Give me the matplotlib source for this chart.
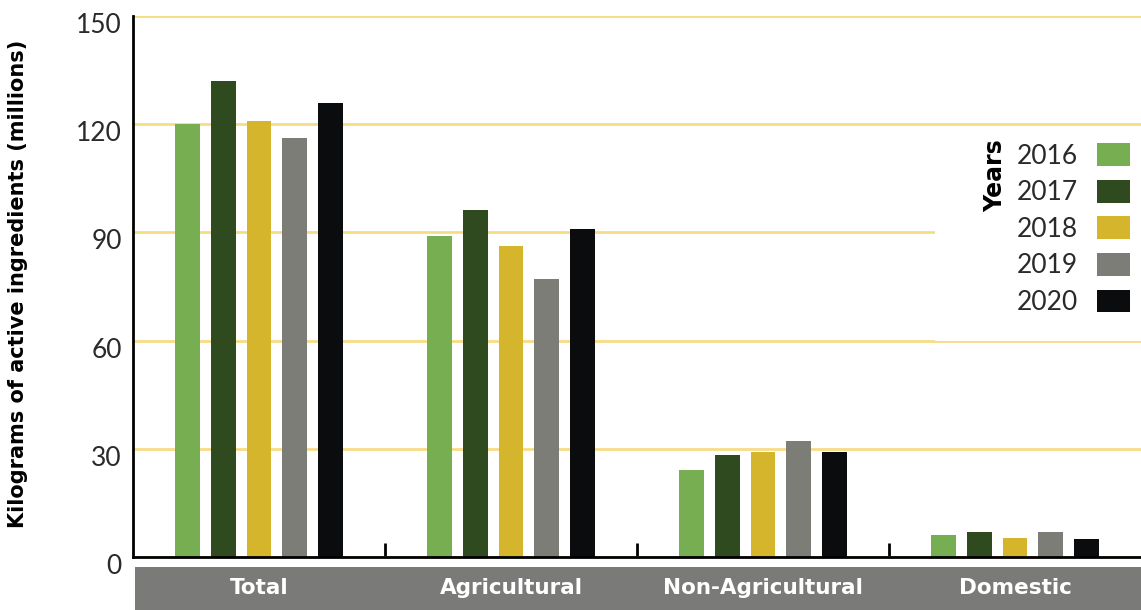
import matplotlib
matplotlib.use("Agg")
import matplotlib.pyplot as plt
import matplotlib.transforms as mtransforms
from matplotlib.patches import Rectangle, Patch
import numpy as np

categories = ["Total", "Agricultural", "Non-Agricultural", "Domestic"]
years = ["2016", "2017", "2018", "2019", "2020"]
values = {
    "2016": [120.0, 89.0, 24.1, 6.1],
    "2017": [132.0, 96.2, 28.2, 7.0],
    "2018": [121.0, 86.2, 29.0, 5.2],
    "2019": [116.2, 77.1, 32.2, 7.0],
    "2020": [125.9, 90.9, 29.2, 5.1],
}
colors = ["#77AE51", "#2F4A1F", "#D4B52B", "#7D7D78", "#0A0C0E"]
yticks = [0, 30, 60, 90, 120, 150]

fig = plt.figure(figsize=(11.41, 6.10), dpi=100)
ax = fig.add_axes([133/1141, 53/610, 1 - 133/1141, 541/610])

x = np.arange(len(categories))
w = 0.099
step = 0.141
for i, (yr, c) in enumerate(zip(years, colors)):
    ax.bar(x + (i - 2) * step, values[yr], width=w, color=c, zorder=2, label=yr)

ax.set_xlim(-0.5, 3.5)
ax.set_ylim(0, 150)
ax.set_yticks(yticks)
ax.set_yticklabels([str(v) for v in yticks], fontsize=19, color="#2A2A2A",
                   family=["Lato", "DejaVu Sans"], fontweight="normal")
ax.tick_params(axis="y", length=0, pad=8)
dy = mtransforms.ScaledTranslation(0, -7/100, fig.dpi_scale_trans)
for lab in ax.get_yticklabels():
    lab.set_transform(lab.get_transform() + dy)

ax.grid(axis="y", color="#F7DC86", linewidth=2, zorder=0.5)
ax.set_axisbelow(True)
for s in ["top", "right"]:
    ax.spines[s].set_visible(False)
ax.spines["left"].set_linewidth(2)
ax.spines["bottom"].set_linewidth(2)

ax.set_xticks([])
ax.set_xticks([0.5, 1.5, 2.5], minor=True)
ax.tick_params(axis="x", which="minor", direction="in", length=10, width=2, color="black")

# gray band with category labels
band = Rectangle((135/1141, 0), 1, 43/610, transform=fig.transFigure,
                 facecolor="#7A7B79", edgecolor="none", zorder=-1)
fig.patches.append(band)
trans = mtransforms.blended_transform_factory(ax.transData, fig.transFigure)
for xi, cat in zip(x, categories):
    ax.text(xi, 22/610, cat, transform=trans, ha="center", va="center",
            color="white", fontsize=15.5, fontweight="bold", clip_on=False,
            family=["DejaVu Sans"])

ax.set_ylabel("Kilograms of active ingredients (millions)", fontsize=15,
              fontweight="bold", labelpad=18)
ax.yaxis.set_label_coords(-0.104, 0.505)

# legend area
ax.add_patch(Rectangle((0.796, 0.40), 0.21, 0.375, transform=ax.transAxes,
                       facecolor="white", edgecolor="none", zorder=0.8))
handles = [Patch(facecolor=c, label=y) for y, c in zip(years, colors)]
leg = ax.legend(handles=handles, loc="upper right", bbox_to_anchor=(1.0, 0.784),
                markerfirst=False, frameon=False,
                prop={"family": ["Lato", "DejaVu Sans"], "weight": "normal", "size": 19},
                handlelength=1.25, handleheight=0.95, labelspacing=0.42,
                handletextpad=0.75, borderaxespad=0.0)
for t in leg.get_texts():
    t.set_color("#2A2A2A")
ax.text(0.855, 0.705, "Years", transform=ax.transAxes, rotation=90,
        ha="center", va="center", fontsize=17, fontweight="bold")

fig.savefig("out.png", dpi=100)
